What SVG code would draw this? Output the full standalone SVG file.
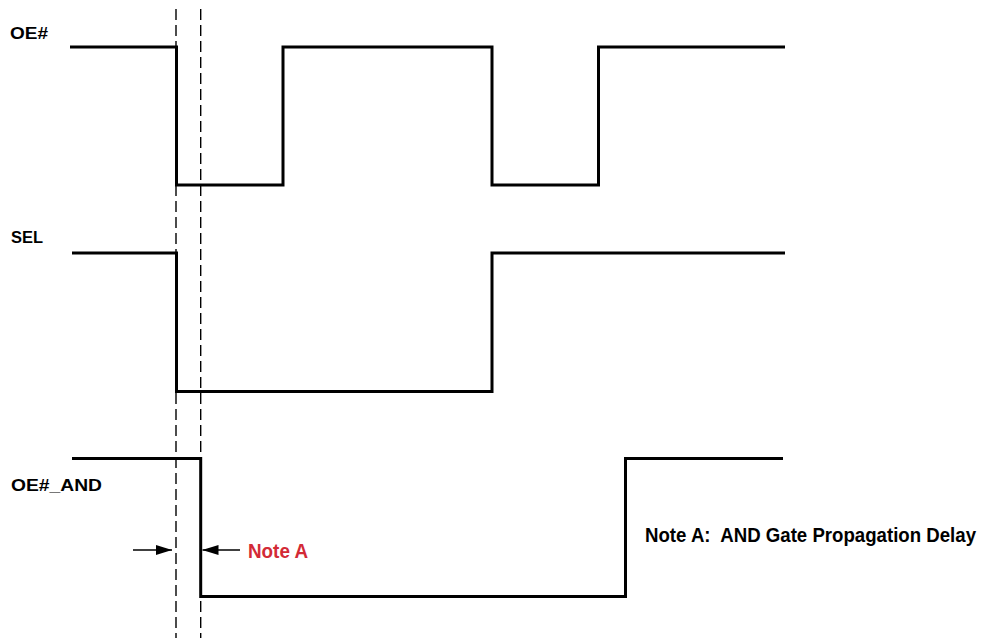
<svg xmlns="http://www.w3.org/2000/svg" width="986" height="638" viewBox="0 0 986 638">
<style>
.sig{fill:none;stroke:#000;stroke-width:3;stroke-linejoin:miter;stroke-linecap:butt}
.dash{fill:none;stroke:#000;stroke-width:1.4;stroke-dasharray:11 5}
.arr{fill:none;stroke:#000;stroke-width:1.3}
.lbl{font-family:"Liberation Sans",Arial,sans-serif;font-weight:bold;fill:#000}
.red{fill:#d32a36}
</style>
<defs>
<marker id="ah" viewBox="0 0 16 10" refX="16" refY="5" markerWidth="16" markerHeight="10" markerUnits="userSpaceOnUse" orient="auto">
<path d="M0,0 L16,5 L0,10 Z" fill="#000"/>
</marker>
</defs>
<rect width="986" height="638" fill="#fff"/>
<g id="guides">
<line class="dash" x1="176" y1="9" x2="176" y2="638"/>
<line class="dash" x1="200.7" y1="9" x2="200.7" y2="638"/>
</g>
<g id="oe">
<text class="lbl" x="10" y="39" font-size="16.5" textLength="38" lengthAdjust="spacingAndGlyphs">OE#</text>
<path class="sig" d="M70,47 H176.5 V185 H283 V47 H492 V185 H598.5 V47 H785"/>
</g>
<g id="sel">
<text class="lbl" x="11" y="243" font-size="16.5" textLength="32" lengthAdjust="spacingAndGlyphs">SEL</text>
<path class="sig" d="M72,253 H176.5 V391.5 H492 V253 H785"/>
</g>
<g id="oe_and">
<text class="lbl" x="11" y="491" font-size="16.5" textLength="91" lengthAdjust="spacingAndGlyphs">OE#_AND</text>
<path class="sig" d="M72,458.5 H200.7 V596.5 H625.5 V458.5 H783"/>
</g>
<g id="connectors">
<line class="arr" x1="133" y1="550" x2="172" y2="550" marker-end="url(#ah)"/>
<line class="arr" x1="240" y1="550" x2="202.5" y2="550" marker-end="url(#ah)"/>
</g>
<g id="notes">
<text class="lbl red" x="248" y="558" font-size="21" textLength="60" lengthAdjust="spacingAndGlyphs">Note A</text>
<text class="lbl" transform="translate(645,541.5) scale(1,1.1)" x="0" y="0" font-size="18.5" textLength="331" lengthAdjust="spacingAndGlyphs" xml:space="preserve">Note A:  AND Gate Propagation Delay</text>
</g>
</svg>
